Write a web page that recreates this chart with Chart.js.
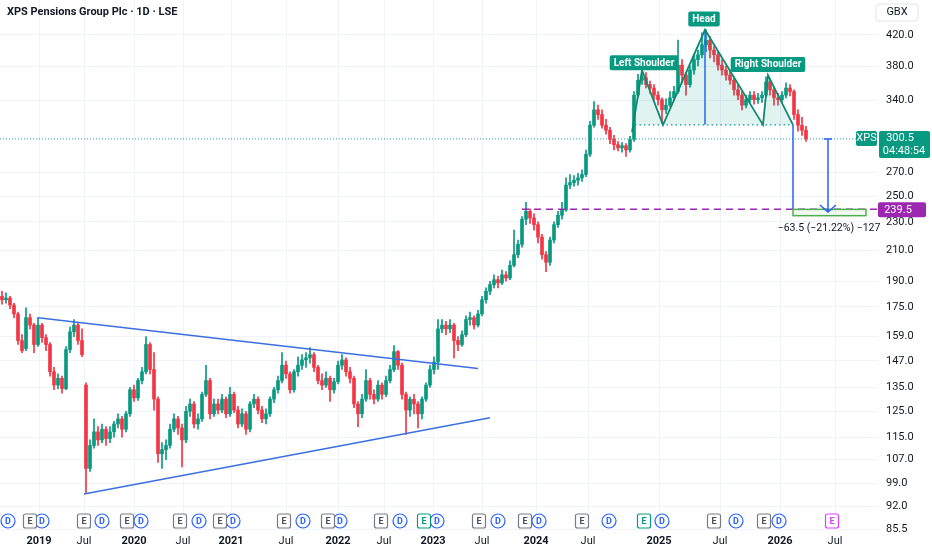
<!DOCTYPE html>
<html lang="en">
<head>
<meta charset="UTF-8">
<title>XPS Pensions Group Plc · 1D · LSE</title>
<script src="https://cdn.jsdelivr.net/npm/chart.js"></script>
<style>
  html, body { margin: 0; padding: 0; background: #fff; }
  .chart-container { width: 932px; height: 550px; position: relative; }
</style>
</head>
<body>
<div class="chart-container"><canvas id="xpsChart"></canvas></div>
<script>
// candles (~9 sessions per candle)
const opens = [
  181, 179, 180, 176, 171, 157, 153, 169, 165, 155,
  165, 158.5, 155, 142, 136, 139, 134.5, 152.5, 161.5, 165,
  157, 136, 104, 112, 117, 114, 118, 114.5, 117, 120,
  122, 118, 124, 134, 130.5, 138, 142, 155, 143, 130,
  109, 110.5, 112, 118, 122, 118.5, 114, 125, 128, 120,
  122, 132, 138, 124, 128, 125.5, 130, 124, 132, 125.5,
  120, 124, 118, 128, 130, 125.5, 122, 124, 130, 134,
  138, 145, 141, 134, 142, 145, 147.5, 148.5, 150, 144,
  138, 136, 139, 134, 137.5, 145, 147.5, 142, 139, 128,
  124, 130, 138, 132, 130, 136, 132, 138, 143, 151.5,
  145, 132, 125.5, 130, 128, 124, 130, 136, 143, 146.5,
  163, 165, 163, 165, 157, 155, 160, 168, 169, 165,
  171, 179, 184, 188, 191, 189, 194, 192, 200, 207,
  214, 232, 238, 233, 228, 219, 207, 202, 217, 228,
  235, 239, 259, 261, 263, 265, 268, 286, 314, 330,
  325, 314, 309, 300, 295, 292, 294, 290, 300, 346,
  363, 366, 358, 354, 346, 341, 330, 335, 343, 350,
  381, 369, 358, 375, 388, 394, 407, 413, 400, 394,
  381, 375, 369, 363, 352, 346, 335, 341, 346, 341,
  343, 346, 361, 352, 343, 341, 346, 354, 350, 325,
  314, 309
];
const highs = [
  184, 183, 181, 177, 172, 160, 174.5, 171, 166, 169,
  166, 160, 156, 144, 141, 140, 154, 164, 168, 166,
  163, 137, 114, 122, 119, 120, 119, 119, 121, 124,
  123, 125, 135, 136, 139, 144, 159, 156, 151, 131,
  113, 114, 120, 124, 123, 120, 127, 130, 129, 124,
  133, 145, 139, 130, 130, 132, 131, 135, 133, 127,
  126, 125, 129, 132, 131, 127, 126, 131, 135, 140,
  151, 147, 142, 143, 149, 150, 151, 153.5, 151, 145,
  141, 142, 140, 139, 147, 150, 148.5, 144, 140, 129,
  132, 143, 139, 134, 138, 137, 140, 145, 154.5, 152,
  146, 133, 131, 132, 129, 131, 137, 145, 149, 168,
  168, 167, 168, 166, 159, 162, 170, 172, 170, 173,
  181, 186, 190, 194, 193, 197, 196, 203, 224, 217,
  234, 245, 240, 236, 230, 221, 209, 219, 230, 238,
  245, 265, 268, 267, 269, 272, 290, 318, 339, 335,
  330, 320, 312, 304, 298, 297, 296, 303, 350, 370,
  375, 372, 362, 358, 350, 343, 342, 350, 356, 413,
  388, 372, 380, 395, 400, 423, 427, 418, 405, 398,
  388, 380, 375, 367, 358, 350, 346, 350, 350, 348,
  350, 367, 364, 355, 348, 350, 360, 358, 352, 330,
  322, 313
];
const lows = [
  176.5, 177, 174, 169, 155, 151, 152, 163, 151, 154,
  156, 152, 140, 134, 134.5, 132.5, 134, 151, 159, 155,
  149, 96, 103, 111, 112, 113, 112, 113, 115, 118.5,
  115, 117, 123, 129, 129.5, 136.5, 141, 141, 125.5, 106,
  104, 107, 111, 117, 116, 104.5, 113, 123, 118.5, 118,
  121, 131, 122, 123, 124, 124.5, 122.5, 123, 124.5, 118.5,
  119, 116, 117, 126.5, 124, 120.5, 120, 123, 128.5, 132.5,
  137, 139, 132.5, 133, 140, 143, 144, 146, 142, 136.5,
  134, 135, 129, 132.5, 136.5, 143, 140, 137, 126.5, 119,
  122.5, 129, 130, 128, 129, 130, 131, 137, 142, 143,
  130, 116, 123, 124, 118.5, 122, 129, 135, 141, 143,
  161, 160, 161, 148.5, 152, 154, 159, 165, 163, 164,
  170, 177, 182, 186, 186, 188, 190, 191, 199, 205,
  212, 228, 229, 224, 215, 204, 196, 200, 215, 226,
  232, 238, 256, 258, 259, 262, 266, 284, 312, 320,
  311, 305, 296, 290, 289, 288, 284, 288, 298, 343,
  358, 354, 348, 341, 335, 316, 326, 333, 340, 348,
  360, 346, 355, 370, 380, 390, 398, 390, 385, 375,
  369, 363, 358, 346, 341, 330, 332, 338, 336, 337,
  338, 344, 346, 335, 335, 338, 343, 345, 320, 308,
  304, 298
];
const closes = [
  179, 180, 176, 171, 157, 152, 169, 165, 155, 165,
  158.5, 155, 142, 136, 139, 134.5, 152.5, 161.5, 165, 157,
  150, 104, 112, 117, 114, 118, 114.5, 117, 120, 122,
  118, 124, 134, 130.5, 138, 142, 155, 143, 130, 109,
  110.5, 112, 118, 122, 118.5, 114, 125, 128, 120, 122,
  132, 138, 124, 128, 125.5, 130, 124, 132, 125.5, 120,
  124, 118, 128, 130, 125.5, 122, 124, 130, 134, 138,
  145, 141, 134, 142, 145, 147.5, 148.5, 150, 144, 138,
  136, 139, 134, 137.5, 145, 147.5, 142, 139, 128, 124,
  130, 138, 132, 130, 136, 132, 138, 143, 151.5, 145,
  132, 125.5, 130, 128, 124, 130, 136, 143, 146.5, 163,
  165, 163, 165, 157, 155, 160, 168, 169, 165, 171,
  179, 184, 188, 191, 189, 194, 192, 200, 207, 214,
  232, 238, 233, 228, 219, 207, 202, 217, 228, 235,
  239, 259, 261, 263, 265, 268, 286, 314, 330, 325,
  314, 309, 300, 295, 292, 294, 290, 300, 346, 363,
  366, 358, 354, 346, 341, 330, 335, 343, 350, 381,
  369, 358, 375, 388, 394, 407, 413, 400, 394, 381,
  375, 369, 363, 352, 346, 335, 341, 346, 341, 343,
  346, 361, 352, 343, 341, 346, 354, 350, 325, 314,
  309, 300.5
];

// time axis, in candle units
const xTickPos = [9.25, 20.5, 33, 45.25, 57.25, 71, 84, 95.5, 107.75, 120, 133.5, 146.5, 164.25, 179.5, 194.5, 208.25];
const xTickLabels = ['2019', 'Jul', '2020', 'Jul', '2021', 'Jul', '2022', 'Jul', '2023', 'Jul', '2024', 'Jul', '2025', 'Jul', '2026', 'Jul'];
const yTicks = [420, 380, 340, 270, 250, 230, 210, 190, 175, 159, 147, 135, 125, 115, 107, 99, 92, 85.5];

// dividends / earnings markers
const dividendPos = [1.5, 10, 25, 34.75, 49.25, 57.75, 75.25, 84.5, 99.5, 108.75, 124, 134.25, 151.75, 165, 183.5, 194.25];
const earningsPos = [7, 20.5, 31.25, 44.5, 54.5, 70.5, 81.5, 94.75, 105.5, 119.25, 130.75, 145, 160.5, 178, 190.5, 207.5];
const earningsKind = ['p', 'p', 'p', 'p', 'p', 'p', 'p', 'p', 'g', 'p', 'p', 'p', 'g', 'p', 'p', 'f'];

const lastPrice = 300.5;
const targetPrice = 239.5;
const necklinePrice = 314.4;

// drawings (candle index, price)
const triUpper = [{ x: 9, y: 169 }, { x: 119, y: 143.5 }];
const triLower = [{ x: 20.5, y: 95.8 }, { x: 122, y: 122.4 }];
const hsPath = [
  { x: 157.5, y: 307 }, { x: 160, y: 375 }, { x: 165.25, y: 314.4 },
  { x: 175.75, y: 427 }, { x: 190.25, y: 314.4 }, { x: 191.5, y: 369 }, { x: 197.75, y: 314.4 }
];
const hsLabels = [
  { text: 'Left Shoulder', x: 160.5, y: 384 },
  { text: 'Head', x: 175.5, y: 442 },
  { text: 'Right Shoulder', x: 191.5, y: 382 }
];

const FONT = "Roboto, 'Noto Sans', sans-serif";
const upColor = '#089981';
const downColor = '#f23645';
const blue = '#2962ff';

const idx = closes.map((c, i) => i);
const candleColor = ctx => closes[ctx.dataIndex] >= opens[ctx.dataIndex] ? upColor : downColor;

function roundRect(ctx, x, y, w, h, r) {
  ctx.beginPath();
  ctx.moveTo(x + r, y);
  ctx.arcTo(x + w, y, x + w, y + h, r);
  ctx.arcTo(x + w, y + h, x, y + h, r);
  ctx.arcTo(x, y + h, x, y, r);
  ctx.arcTo(x, y, x + w, y, r);
  ctx.closePath();
}

const overlay = {
  id: 'overlay',
  afterDraw(chart) {
    const ctx = chart.ctx;
    const X = v => chart.scales.x.getPixelForValue(v);
    const Y = v => chart.scales.y.getPixelForValue(v);
    const area = chart.chartArea;
    ctx.save();
    ctx.textAlign = 'center';
    ctx.textBaseline = 'middle';

    // target box
    const rx0 = X(197.75), rx1 = X(216), ry0 = Y(targetPrice), ry1 = Y(234.7);
    ctx.fillStyle = 'rgba(76,175,80,0.08)';
    ctx.fillRect(rx0, ry0, rx1 - rx0, ry1 - ry0);
    ctx.strokeStyle = '#4caf50';
    ctx.lineWidth = 1.5;
    ctx.strokeRect(rx0, ry0, rx1 - rx0, ry1 - ry0);

    // measure arrow
    const ax = X(206.5), ay0 = Y(lastPrice), ay1 = Y(237.5);
    ctx.strokeStyle = blue;
    ctx.lineWidth = 1.5;
    ctx.beginPath();
    ctx.moveTo(ax - 4, ay0); ctx.lineTo(ax + 4, ay0);
    ctx.moveTo(ax, ay0); ctx.lineTo(ax, ay1);
    ctx.moveTo(ax - 8, ay1 - 7); ctx.lineTo(ax, ay1); ctx.lineTo(ax + 8, ay1 - 7);
    ctx.stroke();
    ctx.fillStyle = '#131722';
    ctx.font = `10.5px ${FONT}`;
    ctx.fillText('\u221263.5 (\u221221.22%) \u2212127', ax + 1, Y(225));

    // pattern labels
    ctx.font = `bold 10px ${FONT}`;
    hsLabels.forEach(l => {
      const w = ctx.measureText(l.text).width + 8;
      const cx = X(l.x), cy = Y(l.y);
      roundRect(ctx, cx - w / 2, cy - 7.5, w, 15, 2);
      ctx.fillStyle = upColor;
      ctx.fill();
      ctx.fillStyle = '#fff';
      ctx.fillText(l.text, cx, cy + 0.5);
    });

    // events row
    const ey = area.bottom - 11;
    dividendPos.forEach(p => {
      const x = X(p);
      ctx.beginPath();
      ctx.arc(x, ey, 7, 0, Math.PI * 2);
      ctx.fillStyle = '#fff';
      ctx.fill();
      ctx.strokeStyle = blue;
      ctx.lineWidth = 1.2;
      ctx.stroke();
      ctx.fillStyle = blue;
      ctx.font = `bold 9px ${FONT}`;
      ctx.fillText('D', x, ey + 0.5);
    });
    earningsPos.forEach((p, i) => {
      const x = X(p);
      const col = earningsKind[i] === 'g' ? upColor : earningsKind[i] === 'f' ? '#e040fb' : '#787b86';
      roundRect(ctx, x - 6.5, ey - 7, 13, 14, 2);
      ctx.fillStyle = '#fff';
      ctx.fill();
      ctx.strokeStyle = col;
      ctx.lineWidth = 1.2;
      ctx.stroke();
      ctx.fillStyle = col === '#787b86' ? '#4a4d57' : col;
      ctx.font = `bold 9px ${FONT}`;
      ctx.fillText('E', x, ey + 0.5);
    });

    // price scale labels
    const py = Y(lastPrice);
    ctx.font = `11px ${FONT}`;
    roundRect(ctx, area.right - 22, py - 8, 21, 15, 2);
    ctx.fillStyle = upColor;
    ctx.fill();
    ctx.fillStyle = '#fff';
    ctx.fillText('XPS', area.right - 11.5, py - 0.5);
    roundRect(ctx, area.right + 1, py - 8, 51, 27, 2);
    ctx.fillStyle = upColor;
    ctx.fill();
    ctx.fillStyle = '#fff';
    ctx.fillText('300.5', area.right + 22, py - 0.5);
    ctx.fillText('04:48:54', area.right + 26, py + 12.5);

    const ty = Y(targetPrice);
    roundRect(ctx, area.right, ty - 7, 48, 15, 2);
    ctx.fillStyle = '#9c27b0';
    ctx.fill();
    ctx.fillStyle = '#fff';
    ctx.fillText('239.5', area.right + 20, ty + 0.5);

    // currency
    roundRect(ctx, area.right - 2, 4, 42, 17, 3);
    ctx.fillStyle = '#fff';
    ctx.fill();
    ctx.strokeStyle = '#e0e3eb';
    ctx.lineWidth = 1;
    ctx.stroke();
    ctx.fillStyle = '#131722';
    ctx.fillText('GBX', area.right + 19, 12.5);

    // title
    ctx.textAlign = 'left';
    ctx.font = `bold 11px ${FONT}`;
    ctx.fillText('XPS Pensions Group Plc \u00b7 1D \u00b7 LSE', 7, 12);
    ctx.restore();
  }
};

const lineDs = (data, color, extra) => Object.assign({
  type: 'line', data: data, borderColor: color, borderWidth: 1.5,
  pointRadius: 0, fill: false, tension: 0, order: 1
}, extra || {});

new Chart(document.getElementById('xpsChart'), {
  type: 'bar',
  data: {
    datasets: [
      lineDs([{ x: -0.5, y: lastPrice }, { x: 219, y: lastPrice }], '#26a69a', { borderWidth: 1, borderDash: [1, 2], order: 3 }),
      lineDs([{ x: 130, y: targetPrice }, { x: 219, y: targetPrice }], '#9c27b0', { borderDash: [7, 5], order: 3 }),
      lineDs(triUpper, '#3b6fe0'),
      lineDs(triLower, '#3b6fe0'),
      lineDs([{ x: 158.25, y: necklinePrice }, { x: 197.75, y: necklinePrice }], '#089981', { borderWidth: 1.2, borderDash: [1.5, 3] }),
      lineDs(hsPath, '#0b8a6f', { borderWidth: 1.8, fill: { value: necklinePrice }, backgroundColor: 'rgba(8,153,129,0.12)' }),
      lineDs([{ x: 175.75, y: 427 }, { x: 175.75, y: necklinePrice }], blue),
      lineDs([{ x: 197.75, y: necklinePrice }, { x: 197.75, y: targetPrice }], blue),
      {
        label: 'wick', data: idx.map(i => ({ x: i, y: [lows[i], highs[i]] })),
        backgroundColor: candleColor, barThickness: 1, grouped: false, order: 11
      },
      {
        label: 'body', data: idx.map(i => ({ x: i, y: [opens[i], closes[i]] })),
        backgroundColor: candleColor, barThickness: 3, minBarLength: 1, grouped: false, order: 10
      }
    ]
  },
  options: {
    responsive: true,
    maintainAspectRatio: false,
    animation: false,
    layout: { padding: 0 },
    plugins: { legend: { display: false }, tooltip: { enabled: false } },
    scales: {
      x: {
        type: 'linear', min: -0.5, max: 219, offset: false,
        grid: { color: '#f0f3fa', drawTicks: false, offset: false },
        border: { display: false },
        afterBuildTicks: s => { s.ticks = xTickPos.map(v => ({ value: v })); },
        afterFit: s => { s.height = 18; s.paddingLeft = 0; s.paddingRight = 0; },
        ticks: {
          autoSkip: false, maxRotation: 0, padding: 3, color: '#131722',
          font: c => ({ family: FONT, size: 11, weight: c.tick && c.tick.label !== 'Jul' ? 'bold' : 'normal' }),
          callback: (v, i) => xTickLabels[i]
        }
      },
      y: {
        type: 'logarithmic', position: 'right', min: 84.75, max: 470, bounds: 'data',
        grid: { color: '#f0f3fa', drawTicks: false },
        border: { display: false },
        afterBuildTicks: s => { s.ticks = yTicks.map(v => ({ value: v })); },
        afterFit: s => { s.width = 54; s.paddingTop = 0; s.paddingBottom = 0; },
        ticks: {
          autoSkip: false, padding: 8, color: '#131722',
          font: { family: FONT, size: 11 },
          callback: v => Number(v).toFixed(1)
        }
      }
    }
  },
  plugins: [overlay]
});
</script>
</body>
</html>
